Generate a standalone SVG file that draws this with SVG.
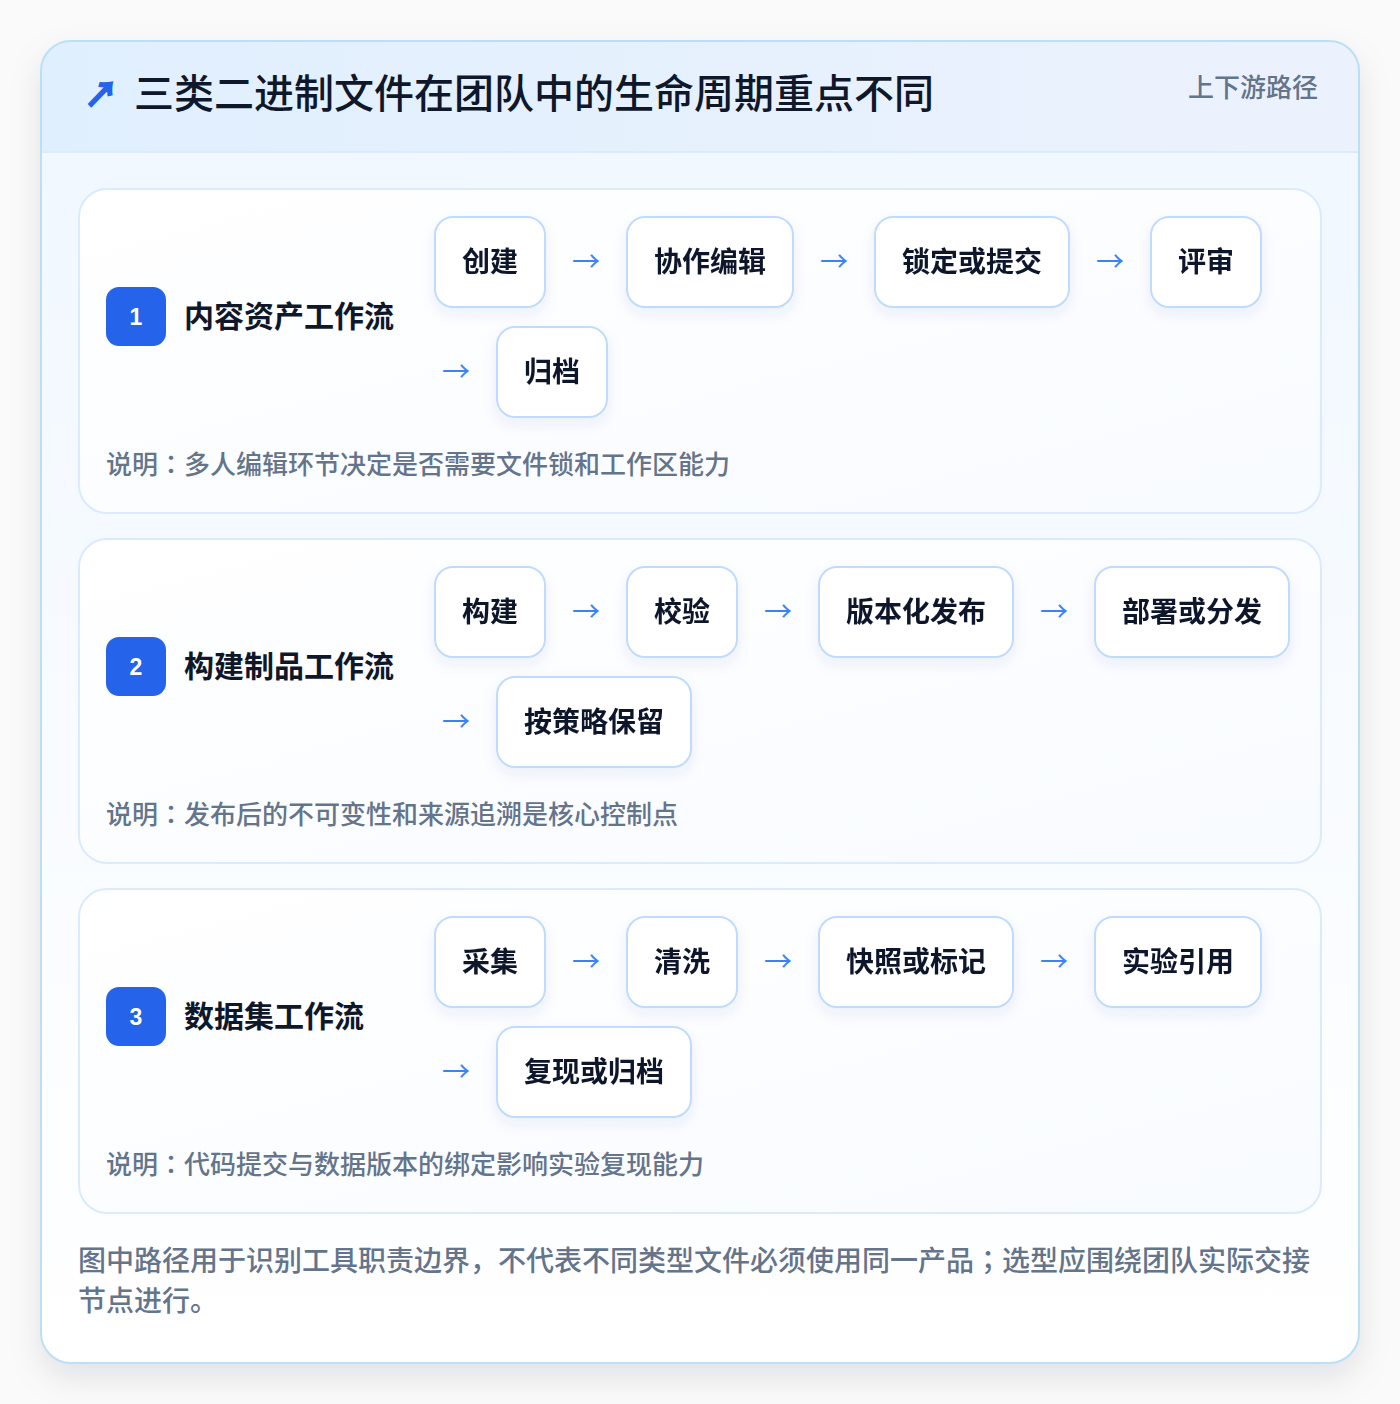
<svg xmlns="http://www.w3.org/2000/svg" width="1400" height="1404" viewBox="0 0 1400 1404">
<defs>
<style>
text{font-family:"Noto Sans CJK SC","Noto Sans",sans-serif}
.title{font-size:40px;font-weight:500;fill:#0f172a}
.tag{font-size:26px;font-weight:500;fill:#64748b}
.sec{font-size:30px;font-weight:700;fill:#0f172a}
.badge{fill:#2563eb}
.num{font-family:"Liberation Sans",Arial,sans-serif;font-size:23px;font-weight:700;fill:#ffffff}
.node rect{fill:#ffffff;stroke:#bfdbfe;stroke-width:2}
.node text{font-size:28px;font-weight:700;fill:#0f172a;text-anchor:middle}
.arr{font-size:28px;fill:#3b82f6;text-anchor:middle}
.note{font-size:26px;font-weight:500;fill:#64748b}
.foot{font-size:28px;font-weight:500;fill:#64748b}
.jp{font-family:"Noto Sans CJK JP",sans-serif}
.kr{font-family:"Noto Sans CJK KR",sans-serif}
.card{fill:url(#cardg);stroke:#dbeafe;stroke-width:2}
</style>
<linearGradient id="headg" x1="0" y1="0" x2="1" y2="0">
<stop offset="0" stop-color="#e0effe"/>
<stop offset="1" stop-color="#ecf2fd"/>
</linearGradient>
<linearGradient id="bodyg" x1="0" y1="0" x2="0" y2="1">
<stop offset="0" stop-color="#f0f7ff"/>
<stop offset="1" stop-color="#ffffff"/>
</linearGradient>
<linearGradient id="cardg" x1="0" y1="0" x2="1" y2="1">
<stop offset="0" stop-color="#ffffff"/>
<stop offset="1" stop-color="#f8fbff"/>
</linearGradient>
<filter id="sh" x="-10%" y="-10%" width="120%" height="120%">
<feDropShadow dx="0" dy="14" stdDeviation="16" flood-color="#0f172a" flood-opacity="0.10"/>
</filter>
<filter id="nsh" x="-20%" y="-20%" width="140%" height="160%">
<feDropShadow dx="0" dy="6" stdDeviation="7" flood-color="#1e3a8a" flood-opacity="0.07"/>
</filter>
<clipPath id="outerclip"><rect x="41" y="41" width="1318" height="1322" rx="30"/></clipPath>
</defs>
<rect width="1400" height="1404" fill="#fafafa"/>
<g id="frame">
<rect x="41" y="41" width="1318" height="1322" rx="30" fill="url(#bodyg)" filter="url(#sh)"/>
<g clip-path="url(#outerclip)">
<rect x="41" y="41" width="1318" height="111" fill="url(#headg)"/>
<line x1="41" y1="152" x2="1359" y2="152" stroke="#dbeafe" stroke-width="2"/>
</g>
<rect x="41" y="41" width="1318" height="1322" rx="30" fill="none" stroke="#bae0f7" stroke-width="2"/>
</g>
<g id="header">
<text x="84" y="107" font-size="34" font-weight="700" fill="#2563eb" stroke="#2563eb" stroke-width="1.6" font-family="DejaVu Sans,sans-serif">↗</text>
<text class="title" x="134" y="108">三类二进制文件在团队中的生命周期重点不同</text>
<text class="tag" x="1318" y="97" text-anchor="end">上下游路径</text>
</g>

<!-- Section 1 -->
<g id="section1">
<rect class="card" x="79" y="189" width="1242" height="324" rx="28"/>
<rect class="badge" x="106" y="287" width="60" height="59" rx="13"/>
<text class="num" x="136" y="325" text-anchor="middle">1</text>
<text class="sec" x="184" y="327">内容资产工作流</text>
<text class="note" x="106" y="474">说明<tspan class="jp">：</tspan>多人编辑环节决定是否需要文件锁和工作区能力</text>
</g>
<g id="s1n1" class="node" filter="url(#nsh)"><rect x="435" y="217" width="110" height="90" rx="18"/><text x="490" y="272">创建</text></g>
<g id="s1n2" class="node" filter="url(#nsh)"><rect x="627" y="217" width="166" height="90" rx="18"/><text x="710" y="272">协作编辑</text></g>
<g id="s1n3" class="node" filter="url(#nsh)"><rect x="875" y="217" width="194" height="90" rx="18"/><text x="972" y="272">锁定或提交</text></g>
<g id="s1n4" class="node" filter="url(#nsh)"><rect x="1151" y="217" width="110" height="90" rx="18"/><text x="1206" y="272">评审</text></g>
<g id="s1n5" class="node" filter="url(#nsh)"><rect x="497" y="327" width="110" height="90" rx="18"/><text x="552" y="382">归档</text></g>

<!-- Section 2 -->
<g id="section2">
<rect class="card" x="79" y="539" width="1242" height="324" rx="28"/>
<rect class="badge" x="106" y="637" width="60" height="59" rx="13"/>
<text class="num" x="136" y="675" text-anchor="middle">2</text>
<text class="sec" x="184" y="677">构建制品工作流</text>
<text class="note" x="106" y="824">说明<tspan class="jp">：</tspan>发布后的不可变性和来源追溯是核心控制点</text>
</g>
<g id="s2n1" class="node" filter="url(#nsh)"><rect x="435" y="567" width="110" height="90" rx="18"/><text x="490" y="622">构建</text></g>
<g id="s2n2" class="node" filter="url(#nsh)"><rect x="627" y="567" width="110" height="90" rx="18"/><text x="682" y="622">校验</text></g>
<g id="s2n3" class="node" filter="url(#nsh)"><rect x="819" y="567" width="194" height="90" rx="18"/><text x="916" y="622">版本化发布</text></g>
<g id="s2n4" class="node" filter="url(#nsh)"><rect x="1095" y="567" width="194" height="90" rx="18"/><text x="1192" y="622">部署或分发</text></g>
<g id="s2n5" class="node" filter="url(#nsh)"><rect x="497" y="677" width="194" height="90" rx="18"/><text x="594" y="732">按策略保留</text></g>

<!-- Section 3 -->
<g id="section3">
<rect class="card" x="79" y="889" width="1242" height="324" rx="28"/>
<rect class="badge" x="106" y="987" width="60" height="59" rx="13"/>
<text class="num" x="136" y="1025" text-anchor="middle">3</text>
<text class="sec" x="184" y="1027">数据集工作流</text>
<text class="note" x="106" y="1174">说明<tspan class="jp">：</tspan>代码提交与数据版本的绑定影响实验复现能力</text>
</g>
<g id="s3n1" class="node" filter="url(#nsh)"><rect x="435" y="917" width="110" height="90" rx="18"/><text x="490" y="972">采集</text></g>
<g id="s3n2" class="node" filter="url(#nsh)"><rect x="627" y="917" width="110" height="90" rx="18"/><text x="682" y="972">清洗</text></g>
<g id="s3n3" class="node" filter="url(#nsh)"><rect x="819" y="917" width="194" height="90" rx="18"/><text x="916" y="972">快照或标记</text></g>
<g id="s3n4" class="node" filter="url(#nsh)"><rect x="1095" y="917" width="166" height="90" rx="18"/><text x="1178" y="972">实验引用</text></g>
<g id="s3n5" class="node" filter="url(#nsh)"><rect x="497" y="1027" width="194" height="90" rx="18"/><text x="594" y="1082">复现或归档</text></g>

<g id="connectors">
<text class="arr" x="586" y="272">→</text>
<text class="arr" x="834" y="272">→</text>
<text class="arr" x="1110" y="272">→</text>
<text class="arr" x="456" y="382">→</text>
<text class="arr" x="586" y="622">→</text>
<text class="arr" x="778" y="622">→</text>
<text class="arr" x="1054" y="622">→</text>
<text class="arr" x="456" y="732">→</text>
<text class="arr" x="586" y="972">→</text>
<text class="arr" x="778" y="972">→</text>
<text class="arr" x="1054" y="972">→</text>
<text class="arr" x="456" y="1082">→</text>
</g>

<g id="footer">
<text class="foot" x="78" y="1271">图中路径用于识别工具职责边界<tspan class="kr">，</tspan>不代表不同类型文件必须使用同一产品<tspan class="kr">；</tspan>选型应围绕团队实际交接</text>
<text class="foot" x="78" y="1311">节点进行。</text>
</g>
</svg>
